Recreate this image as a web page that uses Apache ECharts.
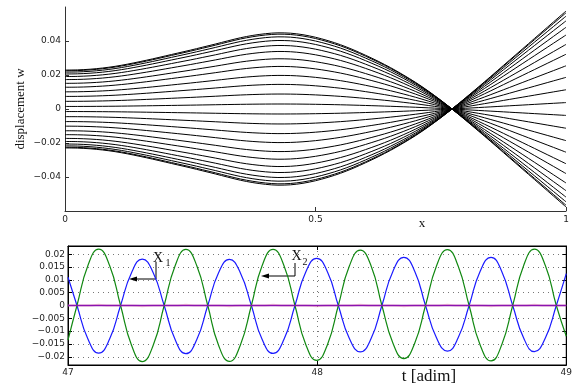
<!DOCTYPE html>
<html><head><meta charset="utf-8">
<script src="https://cdn.jsdelivr.net/npm/echarts@6/dist/echarts.min.js"></script>
<style>html,body{margin:0;padding:0;background:#fff}#c{width:575px;height:386px}</style>
</head><body><div id="c"></div>
<script>
// ---------- top panel: displacement snapshots ----------
const xSamples = [0,0.025,0.05,0.075,0.1,0.125,0.15,0.175,0.2,0.225,0.25,0.275,0.3,0.325,0.35,0.375,0.4,0.425,0.45,0.475,
  0.5,0.525,0.55,0.575,0.6,0.625,0.65,0.675,0.7,0.725,0.75,0.775,0.8,0.825,0.85,0.875,0.9,0.925,0.95,0.975,1.0];
// outermost (positive at x=0) curve, read along x
const envelopeTop = [0.0229,0.0230,0.0234,0.0241,0.0251,0.0264,0.0279,0.0295,0.0312,0.0329,0.0346,0.0364,0.0382,0.0401,
  0.0419,0.0433,0.0443,0.0448,0.0446,0.0437,0.0422,0.0402,0.0378,0.0349,0.0316,0.0281,0.0243,0.0201,0.0156,0.0106,0.0052,
  -0.0006,-0.0067,-0.0129,-0.0192,-0.0256,-0.0320,-0.0384,-0.0448,-0.0512,-0.0576];
// value of each curve at x = 0
const leftEndValues = [0.0229,0.0225,0.0217,0.0206,0.0191,0.0173,0.0151,0.0128,0.0101,0.0074,0.0045,0.0015,
  -0.0015,-0.0045,-0.0074,-0.0101,-0.0128,-0.0151,-0.0173,-0.0191,-0.0206,-0.0217,-0.0225,-0.0229];
const topXTicks = [0,0.5,1];
const topYTicks = [-0.04,-0.02,0,0.02,0.04];

// ---------- bottom panel: time histories ----------
const tTimes = [47,47.036,47.080,47.123,47.167,47.211,47.255,47.298,47.342,47.386,47.430,47.473,47.517,47.561,47.604,47.648,47.692,
  47.736,47.779,47.823,47.867,47.911,47.954,47.998,48.042,48.085,48.129,48.173,48.217,48.260,48.304,48.348,48.392,48.435,48.479,
  48.523,48.566,48.610,48.654,48.698,48.741,48.785,48.829,48.872,48.916,48.960,49];
const blueValues = [0.0110,0,-0.0131,-0.0186,-0.0131,0,0.0128,0.0181,0.0128,0,-0.0133,-0.0188,-0.0133,0,0.0127,0.0180,0.0127,
  0,-0.0132,-0.0187,-0.0132,0,0.0130,0.0184,0.0130,0,-0.0128,-0.0181,-0.0128,0,0.0133,0.0188,0.0133,0,-0.0126,-0.0178,-0.0126,
  0,0.0133,0.0188,0.0133,0,-0.0127,-0.0180,-0.0127,0,0.0124];
const greenValues = [-0.0135,0,0.0156,0.0220,0.0156,0,-0.0155,-0.0219,-0.0155,0,0.0155,0.0219,0.0155,0,-0.0154,-0.0218,-0.0154,
  0,0.0155,0.0219,0.0155,0,-0.0151,-0.0214,-0.0151,0,0.0153,0.0216,0.0153,0,-0.0146,-0.0207,-0.0146,0,0.0154,0.0218,0.0154,
  0,-0.0153,-0.0216,-0.0153,0,0.0156,0.0220,0.0156,0,-0.0120];
const redValues = [0,0,0,0.00025,0,0,0,-0.00025,0,0,0,0.00025,0,0,0,-0.00025,0,0,0,0.00025,0,0,0,-0.00025,0,0,0,0.00025,0,0,0,
  -0.00025,0,0,0,0.00025,0,0,0,-0.00025,0,0,0,0.00025,0,0,0];
const zeroLineT = [47,49];
const zeroLineValues = [0,0];
const bottomYTicks = [-0.02,-0.015,-0.01,-0.005,0,0.005,0.01,0.015,0.02];

const SANS = 'DejaVu Sans';
const fmt = v => {
  if (Math.abs(v) < 1e-12) return '0';
  return String(+(+v).toFixed(4)).replace('-', '\u2212');
};
const labelStyle = (margin) => ({fontFamily: SANS, fontSize: 9, color: '#222', margin, formatter: fmt});

const series = [];
leftEndValues.forEach((a) => {
  series.push({
    type: 'line', xAxisIndex: 0, yAxisIndex: 0, smooth: 0.3, showSymbol: false, silent: true,
    lineStyle: {color: '#000', width: 1},
    data: xSamples.map((x, i) => [x, envelopeTop[i] * a / envelopeTop[0]])
  });
});
const mk = (vals, times) => times.map((t, i) => [t, vals[i]]);
series.push({type:'line', xAxisIndex:1, yAxisIndex:1, smooth:true, showSymbol:false, silent:true,
  lineStyle:{color:'rgba(245,150,175,0.5)', width:2}, data: mk(redValues, tTimes)});
series.push({type:'line', xAxisIndex:1, yAxisIndex:1, smooth:true, showSymbol:false, silent:true,
  lineStyle:{color:'#1a1aff', width:1.2}, data: mk(blueValues, tTimes)});
series.push({type:'line', xAxisIndex:1, yAxisIndex:1, smooth:true, showSymbol:false, silent:true,
  lineStyle:{color:'#118811', width:1.2}, data: mk(greenValues, tTimes)});
series.push({type:'line', xAxisIndex:1, yAxisIndex:1, showSymbol:false, silent:true,
  lineStyle:{color:'#8a14b0', width:1.4}, data: mk(zeroLineValues, zeroLineT)});

const dotted = {show: true, lineStyle: {type: [1, 4], color: '#777', width: 1}};

const option = {
  animation: false,
  backgroundColor: '#fff',
  grid: [
    {left: 65, right: 9, top: 7, bottom: 175, show: false},
    {left: 68, right: 6, top: 246, bottom: 21, show: true, borderColor: '#000', borderWidth: 1, backgroundColor: 'transparent'}
  ],
  xAxis: [
    {type: 'value', gridIndex: 0, min: 0, max: 1,
     axisLine: {show: true, onZero: false, lineStyle: {color: '#333', width: 1}},
     axisTick: {show: true, inside: true, length: 4, customValues: topXTicks, lineStyle: {color: '#333'}},
     axisLabel: Object.assign(labelStyle(4), {customValues: topXTicks}),
     splitLine: {show: false}},
    {type: 'value', gridIndex: 1, min: 47, max: 49, interval: 1,
     axisLine: {show: true, onZero: false, lineStyle: {color: '#000', width: 1}},
     axisTick: {show: true, inside: true, length: 4, lineStyle: {color: '#000'}},
     axisLabel: Object.assign(labelStyle(3), {showMinLabel: true, showMaxLabel: true}),
     splitLine: dotted},
    {type: 'value', gridIndex: 1, min: 47, max: 49, interval: 1, position: 'top',
     axisLine: {show: true, onZero: false, lineStyle: {color: '#000', width: 1}},
     axisTick: {show: true, inside: true, length: 4, lineStyle: {color: '#000'}},
     axisLabel: {show: false}, splitLine: {show: false}}
  ],
  yAxis: [
    {type: 'value', gridIndex: 0, min: -0.06, max: 0.06,
     axisLine: {show: true, onZero: false, lineStyle: {color: '#333', width: 1}},
     axisTick: {show: true, inside: true, length: 4, customValues: topYTicks, lineStyle: {color: '#333'}},
     axisLabel: Object.assign(labelStyle(4), {customValues: topYTicks}),
     splitLine: {show: false}},
    {type: 'value', gridIndex: 1, min: -0.0232, max: 0.0232,
     axisLine: {show: true, onZero: false, lineStyle: {color: '#000', width: 1}},
     axisTick: {show: true, inside: true, length: 4, customValues: bottomYTicks, lineStyle: {color: '#000'}},
     axisLabel: Object.assign(labelStyle(3), {customValues: bottomYTicks}),
     splitLine: dotted},
    {type: 'value', gridIndex: 1, min: -0.0232, max: 0.0232, position: 'right',
     axisLine: {show: true, onZero: false, lineStyle: {color: '#000', width: 1}},
     axisTick: {show: true, inside: true, length: 4, customValues: bottomYTicks, lineStyle: {color: '#000'}},
     axisLabel: {show: false}, splitLine: {show: false}}
  ],
  series,
  graphic: [
    {type: 'text', x: 21, y: 109, rotation: Math.PI / 2,
     style: {text: 'displacement w', font: '13px "Liberation Serif"', fill: '#111', align: 'center', verticalAlign: 'middle'}},
    {type: 'text', x: 422, y: 224,
     style: {text: 'x', font: '13px "Liberation Serif"', fill: '#111', align: 'center', verticalAlign: 'middle'}},
    {type: 'text', x: 429, y: 377,
     style: {text: 't [adim]', font: '17px "Liberation Serif"', fill: '#111', align: 'center', verticalAlign: 'middle'}},
    // X1 annotation
    {type: 'text', x: 153, y: 258.7, style: {text: 'X', font: '14px "Liberation Serif"', fill: '#111', verticalAlign: 'middle'}},
    {type: 'text', x: 165.5, y: 263, style: {text: '1', font: '10px "Liberation Serif"', fill: '#111', verticalAlign: 'middle'}},
    {type: 'polyline', shape: {points: [[156, 262], [156, 279], [134, 279]]}, style: {stroke: '#000', lineWidth: 1, fill: null}},
    {type: 'polygon', shape: {points: [[129, 279], [137, 276.5], [137, 281.5]]}, style: {fill: '#000'}},
    // X2 annotation
    {type: 'text', x: 291.5, y: 256.7, style: {text: 'X', font: '14px "Liberation Serif"', fill: '#111', verticalAlign: 'middle'}},
    {type: 'text', x: 302.5, y: 262, style: {text: '2', font: '10px "Liberation Serif"', fill: '#111', verticalAlign: 'middle'}},
    {type: 'polyline', shape: {points: [[295, 263], [295, 276], [266, 276]]}, style: {stroke: '#000', lineWidth: 1, fill: null}},
    {type: 'polygon', shape: {points: [[261, 276], [269, 273.5], [269, 278.5]]}, style: {fill: '#000'}}
  ]
};
const chart = echarts.init(document.getElementById('c'));
chart.setOption(option);
</script>
</body></html>
